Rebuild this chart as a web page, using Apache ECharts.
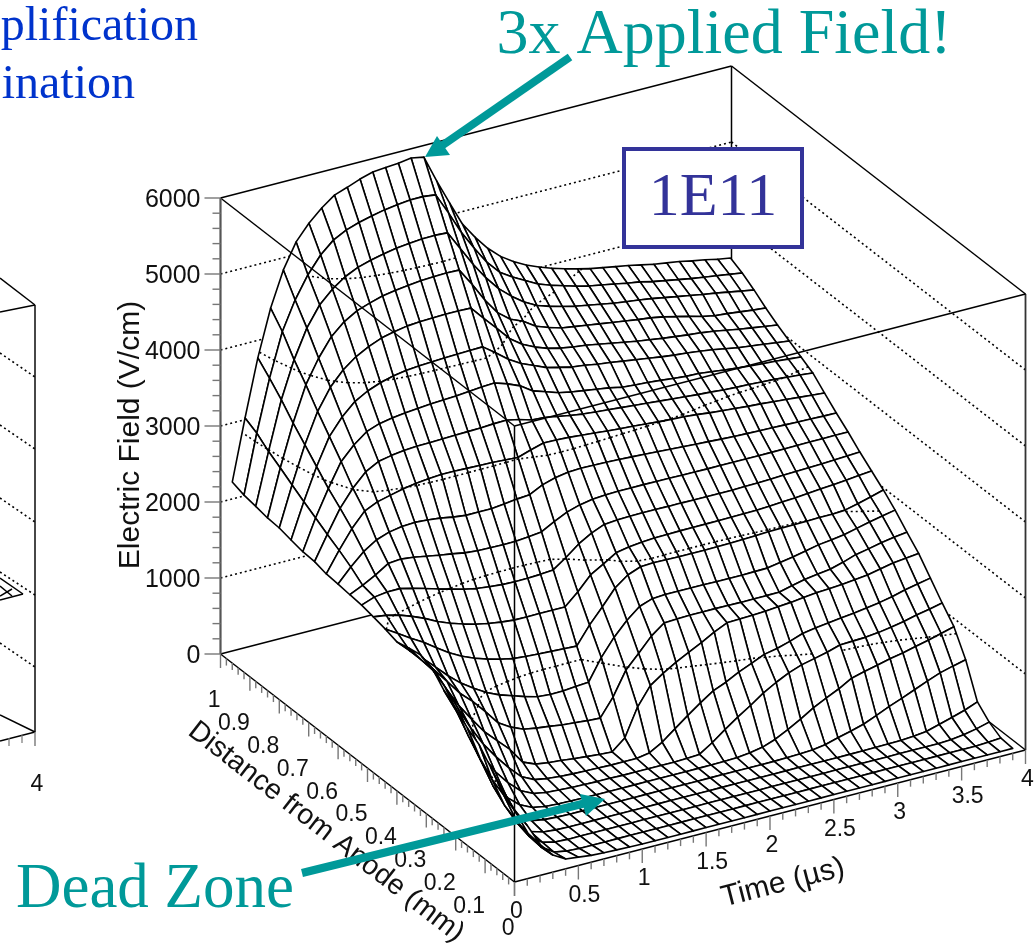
<!DOCTYPE html>
<html><head><meta charset="utf-8">
<style>html,body{margin:0;padding:0;background:#fff;overflow:hidden}#c{width:1034px;height:949px}</style>
<script src="https://cdn.jsdelivr.net/npm/echarts@6/dist/echarts.min.js"></script>
</head><body><div id="c"></div>
<script>
// Electric field (V/cm); one list per distance step (0.04 mm), one value per time step (0.1 us)
const timeStep = 0.1, distanceStep = 0.04;
const e0=[950,700,410,225,130,110,90,80,75,70,65,65,65,65,65,65,65,65,65,65,65,65,65,65,65,65,65,65,65,65,65,65,65,65,65,65,65,65,65,65];
const e1=[1090,760,430,210,100,70,60,60,60,60,60,60,60,60,60,60,60,60,60,60,60,60,60,60,60,60,60,60,60,60,60,60,60,60,60,60,60,60,70,80];
const e2=[1260,860,480,230,110,70,60,60,60,60,60,60,60,60,60,60,60,60,60,60,60,60,60,60,60,60,60,60,60,60,60,60,60,60,60,60,70,90,125,170];
const e3=[1445,950,560,280,130,80,65,60,60,60,60,60,60,60,60,60,60,60,60,60,60,60,60,60,60,60,60,60,60,60,62,64,66,70,80,100,150,197,250,316];
const e4=[1545,1100,700,400,200,110,80,70,65,65,65,65,65,65,65,65,65,65,65,65,65,65,65,65,65,70,75,85,110,158,200,250,320,395,460,530,600,665,710,750];
const e5=[1690,1280,900,590,340,200,120,90,80,75,70,70,70,70,70,70,70,70,70,70,70,75,80,100,130,190,276,370,474,560,640,735,780,820,860,893,935,975,1020,1066];
const e6=[1800,1480,1130,820,560,370,220,140,110,100,90,85,80,80,75,75,75,75,75,80,90,200,330,450,560,680,776,860,921,960,1000,1053,1060,1066,1085,1112,1145,1186,1220,1258];
const e7=[1975,1680,1360,1060,800,590,400,240,160,130,115,105,100,95,90,90,90,120,217,350,480,605,720,790,880,950,1026,1060,1110,1170,1200,1221,1245,1263,1290,1316,1350,1395,1430,1465];
const e8=[2030,1780,1500,1230,1010,800,640,480,270,200,175,160,140,125,110,100,240,604,842,960,1062,1150,1234,1330,1408,1415,1420,1430,1445,1460,1480,1500,1510,1521,1540,1560,1595,1632,1650,1670];
const e9=[2000,1800,1620,1430,1230,1080,900,710,610,540,510,490,465,450,435,425,658,967,1145,1330,1460,1470,1475,1475,1475,1473,1470,1470,1472,1473,1515,1553,1580,1603,1650,1707,1740,1777,1805,1830];
const e10=[1960,1800,1660,1500,1340,1200,1088,990,915,860,805,760,745,750,765,776,1057,1280,1460,1600,1660,1670,1670,1670,1668,1666,1665,1665,1668,1671,1700,1730,1765,1803,1825,1850,1890,1930,1965,2000];
const e11=[2010,1905,1800,1705,1590,1480,1390,1320,1265,1220,1185,1170,1160,1150,1140,1132,1365,1560,1766,1895,1960,1970,1965,1960,1960,1960,1962,1965,1970,1978,1985,1988,1990,1995,2000,2000,2010,2050,2095,2145];
const e12=[2048,2025,1985,1925,1855,1770,1704,1650,1605,1570,1545,1528,1525,1528,1528,1527,1682,1862,1960,2066,2100,2120,2130,2135,2138,2140,2140,2142,2144,2146,2150,2158,2170,2180,2195,2210,2225,2240,2258,2275];
const e13=[2083,2145,2168,2170,2130,2085,2035,1990,1945,1910,1890,1875,1870,1872,1880,1895,2015,2150,2250,2320,2335,2340,2342,2342,2340,2340,2338,2338,2336,2336,2340,2345,2350,2360,2365,2370,2378,2385,2395,2404];
const e14=[2100,2180,2270,2380,2395,2375,2345,2316,2290,2260,2245,2240,2237,2240,2255,2274,2366,2448,2500,2530,2545,2550,2550,2550,2548,2546,2544,2542,2540,2540,2540,2540,2540,2540,2542,2544,2545,2546,2547,2548];
const e15=[2120,2300,2460,2570,2630,2660,2671,2660,2640,2610,2590,2590,2590,2610,2630,2645,2730,2780,2810,2820,2815,2810,2805,2795,2785,2775,2765,2755,2745,2735,2725,2715,2710,2705,2700,2695,2690,2685,2680,2678];
const e16=[2133,2400,2640,2830,2908,2950,2990,3020,3040,3050,3050,3045,3040,3035,3025,3015,3070,3118,3115,3105,3090,3075,3060,3045,3035,3020,3005,2995,2985,2970,2950,2935,2920,2905,2895,2880,2865,2850,2835,2820];
const e17=[2175,2490,2790,3010,3182,3275,3310,3335,3345,3350,3355,3360,3365,3370,3380,3385,3350,3300,3290,3260,3230,3205,3190,3175,3160,3145,3130,3115,3100,3085,3070,3060,3045,3035,3030,3020,3010,2995,2980,2965];
const e18=[2186,2586,2930,3240,3416,3548,3610,3640,3665,3680,3695,3705,3715,3730,3745,3755,3700,3630,3520,3465,3410,3375,3350,3325,3300,3265,3250,3240,3225,3205,3190,3185,3165,3145,3125,3110,3095,3085,3070,3055];
const e19=[2220,2680,3097,3450,3665,3825,3920,3985,4030,4060,4075,4085,4095,4100,4105,4110,3990,3860,3760,3690,3620,3580,3540,3520,3490,3470,3445,3420,3395,3370,3350,3335,3315,3290,3260,3230,3210,3190,3165,3145];
const e20=[2258,2780,3264,3660,3935,4120,4250,4340,4410,4450,4480,4495,4500,4505,4505,4500,4320,4150,3970,3850,3770,3710,3670,3640,3620,3590,3560,3530,3500,3475,3450,3430,3410,3393,3370,3340,3310,3285,3260,3235];
const e21=[2270,2884,3430,3890,4198,4438,4590,4690,4750,4800,4830,4850,4870,4880,4885,4880,4650,4400,4190,4060,3990,3880,3820,3770,3745,3720,3695,3670,3645,3620,3600,3570,3530,3490,3445,3410,3395,3375,3355,3340];
const e22=[2303,2980,3616,4100,4474,4735,4900,5020,5100,5150,5190,5220,5240,5255,5260,5250,5000,4750,4530,4343,4200,4080,3990,3935,3890,3850,3820,3790,3760,3735,3715,3690,3660,3630,3600,3570,3545,3515,3485,3457];
const e23=[2330,3101,3780,4350,4724,5010,5229,5382,5470,5527,5570,5606,5630,5650,5650,5630,5350,5050,4800,4570,4396,4290,4200,4110,4050,4000,3950,3910,3880,3850,3815,3790,3750,3720,3690,3660,3635,3610,3585,3560];
const e24=[2382,3182,3930,4540,5000,5325,5527,5685,5811,5870,5935,5984,6000,6014,6038,6007,5650,5320,5000,4780,4590,4440,4330,4240,4170,4110,4060,4015,3975,3945,3915,3885,3850,3815,3790,3765,3730,3700,3665,3637];
const fieldRows=[e0,e1,e2,e3,e4,e5,e6,e7,e8,e9,e10,e11,e12,e13,e14,e15,e16,e17,e18,e19,e20,e21,e22,e23,e24];

const timeTicks=['0','0.5','1','1.5','2','2.5','3','3.5','4'];
const distanceTicks=['0','0.1','0.2','0.3','0.4','0.5','0.6','0.7','0.8','0.9','1'];
const fieldTicks=['0','1000','2000','3000','4000','5000','6000'];

// oblique view of the (time, distance, field) box onto the page scale of the hidden axes
function project(t,d,e){return [514.5+127.75*t-294*d, 882-33*t-228*d-0.076*e];}
const T=4,D=1,F=6000,INK='#000',TICK='#777';
const serif='"Liberation Serif","Times New Roman",serif', sans='"Liberation Sans",Arial,sans-serif';

function seg(api,a,b,style){
  const p=api.coord(project(a[0],a[1],a[2])),q=api.coord(project(b[0],b[1],b[2]));
  return {type:'line',shape:{x1:p[0],y1:p[1],x2:q[0],y2:q[1]},style:style,silent:true};
}
const solid={stroke:INK,lineWidth:1.5,fill:null};
const dotted={stroke:INK,lineWidth:1.6,lineDash:[2,3],fill:null};

// Back walls
const backSegs=[];
fieldTicks.slice(1,6).forEach(v=>{const e=+v;
  backSegs.push([[0,D,e],[T,D,e],dotted]);
  backSegs.push([[T,D,e],[T,0,e],dotted]);});
backSegs.push([[0,D,F],[T,D,F],solid],[[T,D,F],[T,0,F],solid],[[T,D,0],[T,D,F],solid],
  [[0,D,0],[T,D,0],solid],[[T,D,0],[T,0,0],solid],[[T,0,0],[T,0,F],{stroke:'#333',lineWidth:1.8,fill:null}]);

// Surface quads, far corner first
const quads=[];
for(let i=fieldRows.length-2;i>=0;i--)for(let j=fieldRows[0].length-2;j>=0;j--)quads.push([i,j]);
const levels=fieldTicks.slice(1,6).map(Number);

function renderQuad(params,api){
  const [i,j]=quads[params.dataIndex];
  const c=[[j,i],[j+1,i],[j+1,i+1],[j,i+1]].map(([b,a])=>[b*timeStep,a*distanceStep,fieldRows[a][b]]);
  const pts=c.map(k=>api.coord(project(k[0],k[1],k[2])));
  const kids=[{type:'polygon',shape:{points:pts},style:{fill:'#fff',stroke:INK,lineWidth:1.6,lineJoin:'round'},silent:true}];
  levels.forEach(lv=>{
    const hits=[];
    for(let k=0;k<4;k++){const a=c[k],b=c[(k+1)%4];
      if((a[2]-lv)*(b[2]-lv)<0){const f=(lv-a[2])/(b[2]-a[2]);
        hits.push([a[0]+f*(b[0]-a[0]),a[1]+f*(b[1]-a[1]),lv]);}}
    for(let h=0;h+1<hits.length;h+=2)kids.push(seg(api,hits[h],hits[h+1],dotted));
  });
  return {type:'group',children:kids};
}

// Front frame, ticks and tick labels
const frontSegs=[[[0,0,0],[T,0,0],solid],[[0,0,0],[0,D,0],solid],[[0,0,0],[0,0,F],solid],
  [[0,0,F],[0,D,F],solid],[[0,0,F],[T,0,F],solid],[[0,D,0],[0,D,F],{stroke:'#555',lineWidth:2.2,fill:null}]];

function renderFront(params,api){
  const kids=frontSegs.map(s=>seg(api,s[0],s[1],s[2]));
  const tick={stroke:TICK,lineWidth:1.4,fill:null};
  const tickLine=(p,dx,dy)=>{const a=api.coord(p);return {type:'line',shape:{x1:a[0],y1:a[1],x2:a[0]+dx,y2:a[1]+dy},style:tick,silent:true};};
  const label=(text,x,y,size,align,rot)=>({type:'text',x:x,y:y,rotation:rot||0,silent:true,
    style:{text:text,fontFamily:sans,fontSize:size,fill:'#111',align:align,verticalAlign:'middle'}});
  for(let n=0;n<=40;n++)kids.push(tickLine(project(n*0.1,0,0),0,n%5===0?14:7));
  for(let n=0;n<=50;n++)kids.push(tickLine(project(0,n*0.02,0),0,n%5===0?14:7));
  for(let n=0;n<=30;n++)kids.push(tickLine(project(0,D,n*200),n%5===0?-16:-8,0));
  timeTicks.forEach(v=>{const a=api.coord(project(+v,0,0));kids.push(label(v,a[0]+(v.length>1?6:2),a[1]+30,23,'center'));});
  distanceTicks.forEach(v=>{const a=api.coord(project(0,+v,0));kids.push(label(v,a[0],a[1]+47,23,'right'));});
  fieldTicks.forEach(v=>{const a=api.coord(project(0,D,+v));kids.push(label(v,a[0]-20,a[1]+2,25,'right'));});
  const yc=api.coord([131,435]),dc=api.coord([326,832]),tc=api.coord([783,883]);
  kids.push(label('Electric Field (V/cm)',yc[0],yc[1],30,'center',Math.PI/2));
  kids.push(label('Distance from Anode (mm)',dc[0],dc[1],28.5,'center',-Math.atan(228/294)));
  kids.push(label('Time (\u00b5s)',tc[0],tc[1],30,'center',Math.atan(33/127.75)));
  return {type:'group',children:kids};
}

// Neighbouring panel cut off by the left page edge
function renderLeftPanel(params,api){
  const L=(a,b,c,d,st)=>{const p=api.coord([a,b]),q=api.coord([c,d]);return {type:'line',shape:{x1:p[0],y1:p[1],x2:q[0],y2:q[1]},style:st,silent:true};};
  const k=[L(35,305,35,732,{stroke:'#333',lineWidth:1.8,fill:null}),L(0,278,35,305,solid),L(0,312,35,305,solid),
    L(0,715,35,732,solid),L(0,741,35,732,solid),L(35,732,35,746,{stroke:TICK,lineWidth:1.4,fill:null}),
    L(22,735,22,743,{stroke:TICK,lineWidth:1.2,fill:null}),L(9,738,9,746,{stroke:TICK,lineWidth:1.2,fill:null}),
    L(0,578,23,594,solid),L(0,600,23,594,solid),L(0,586,12,596,solid),L(0,596,12,589,solid),L(0,572,35,595,dotted)];
  [377,449,522,667].forEach(y=>k.push(L(0,y-24,35,y,dotted)));
  const a=api.coord([37,785]);
  k.push({type:'text',x:a[0],y:a[1],silent:true,style:{text:'4',fontFamily:sans,fontSize:23,fill:'#111',align:'center',verticalAlign:'middle'}});
  return {type:'group',children:k};
}

const tealC='#009999';
const chart=echarts.init(document.getElementById('c'),null,{renderer:'canvas'});
chart.setOption({
  animation:false,backgroundColor:'#fff',
  grid:{left:0,right:0,top:0,bottom:0},
  xAxis:{type:'value',min:0,max:1034,show:false},
  yAxis:{type:'value',min:0,max:949,inverse:true,show:false},
  series:[
    {type:'custom',z:1,silent:true,coordinateSystem:'cartesian2d',data:[[0,0]],renderItem:renderLeftPanel},
    {type:'custom',z:2,silent:true,coordinateSystem:'cartesian2d',data:backSegs.map((s,n)=>[n,0]),
      renderItem:(p,api)=>{const s=backSegs[p.dataIndex];return seg(api,s[0],s[1],s[2]);}},
    {type:'custom',z:3,silent:true,coordinateSystem:'cartesian2d',progressive:0,data:quads.map((q,n)=>[n,0]),renderItem:renderQuad},
    {type:'custom',z:4,silent:true,coordinateSystem:'cartesian2d',data:[[0,0]],renderItem:renderFront}
  ],
  graphic:{elements:[
    {type:'rect',z:100,shape:{x:624,y:149,width:178,height:98},style:{fill:'#fff',stroke:'#333399',lineWidth:4}},
    {type:'text',z:101,x:713,y:230,style:{text:'1E11',fontFamily:serif,fontSize:62,fill:'#333399',align:'center',verticalAlign:'bottom'}},
    {type:'text',z:101,x:724,y:68,style:{text:'3x Applied Field!',fontFamily:serif,fontSize:64,fill:tealC,align:'center',verticalAlign:'bottom'}},
    {type:'text',z:101,x:155,y:922,style:{text:'Dead Zone',fontFamily:serif,fontSize:63,fill:tealC,align:'center',verticalAlign:'bottom'}},
    {type:'text',z:101,x:198,y:51,style:{text:'plification',fontFamily:serif,fontSize:48,fill:'#0033cc',align:'right',verticalAlign:'bottom'}},
    {type:'text',z:101,x:135,y:109,style:{text:'bination',fontFamily:serif,fontSize:48,fill:'#0033cc',align:'right',verticalAlign:'bottom'}},
    {type:'line',z:102,shape:{x1:570,y1:57,x2:440,y2:147},style:{stroke:tealC,lineWidth:8}},
    {type:'polygon',z:102,shape:{points:[[425,157],[437,136],[450,155]]},style:{fill:tealC}},
    {type:'line',z:102,shape:{x1:302,y1:873,x2:590,y2:802},style:{stroke:tealC,lineWidth:8}},
    {type:'polygon',z:102,shape:{points:[[605,799],[580,794],[586,816]]},style:{fill:tealC}}
  ]}
});
</script></body></html>
